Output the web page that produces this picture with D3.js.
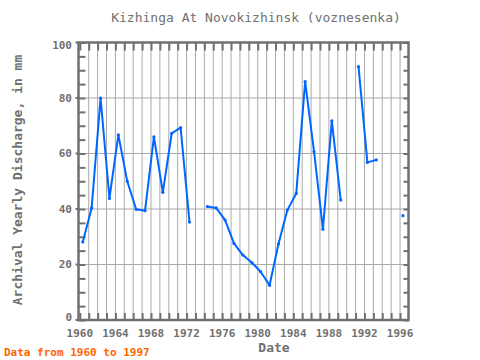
<!DOCTYPE html>
<html><head><meta charset="utf-8">
<script src="https://cdn.jsdelivr.net/npm/d3@7"></script>
<style>body{margin:0;background:#fff}</style>
</head><body>
<svg id="c" width="480" height="360"></svg>
<script>
const years = [1960,1961,1962,1963,1964,1965,1966,1967,1968,1969,1970,1971,1972,1973,1974,1975,1976,1977,1978,1979,1980,1981,1982,1983,1984,1985,1986,1987,1988,1989,1990,1991,1992,1993,1994,1995,1996];
const discharge = [28.1,40.4,80.0,43.8,66.7,50.0,39.9,39.4,66.0,46.0,67.3,69.3,35.3,null,40.9,40.4,36.0,27.6,23.4,20.7,17.4,12.5,27.4,39.6,45.6,85.9,60.7,32.7,71.8,43.2,null,91.3,56.8,57.7,null,null,37.6];
const xTickLabels = [1960,1964,1968,1972,1976,1980,1984,1988,1992,1996];
const yTickLabels = [0,20,40,60,80,100];
const title = "Kizhinga At Novokizhinsk (voznesenka)";
const yLabel = "Archival Yearly Discharge, in mm";
const xLabel = "Date";
const note = "Data from 1960 to 1997";

const data = years.map((y,i)=>({year:y, value:discharge[i]}));
const svg = d3.select("#c");
const L=78.5, R=408.5, T=42.5, B=320;
const x = d3.scaleLinear().domain([1959.85,1996.95]).range([L,R]);
const y = d3.scaleLinear().domain([0,100]).range([B,T]);
const off = 0.33; // observation date within the year
const font = "DejaVu Sans Mono, monospace";
const axisCol = "#707070", gridCol = "#aaaaaa", textCol = "#707070";

// grid
const gridYears = d3.range(1961,1997);
svg.append("g").selectAll("line").data(gridYears).join("line")
  .attr("x1",d=>x(d)).attr("x2",d=>x(d)).attr("y1",T).attr("y2",B)
  .attr("stroke",gridCol).attr("stroke-width",1);
svg.append("g").selectAll("line").data([20,40,60,80]).join("line")
  .attr("x1",L).attr("x2",R).attr("y1",d=>y(d)).attr("y2",d=>y(d))
  .attr("stroke",gridCol).attr("stroke-width",1);

// axes with D3 axis generators
const xb = d3.axisBottom(x).tickValues(d3.range(1960,1997)).tickSize(-7).tickFormat("");
const xt = d3.axisTop(x).tickValues(d3.range(1960,1997)).tickSize(-8).tickFormat("");
const yl = d3.axisLeft(y).tickValues(d3.range(0,101,5)).tickSize(-7).tickFormat("");
const yr = d3.axisRight(y).tickValues(d3.range(0,101,5)).tickSize(-5).tickFormat("");
function style(g){ g.select(".domain").remove(); g.selectAll("line").attr("stroke",axisCol).attr("stroke-width",2); }
svg.append("g").attr("transform",`translate(0,${B})`).call(xb).call(style);
svg.append("g").attr("transform",`translate(0,${T})`).call(xt).call(style);
svg.append("g").attr("transform",`translate(${L},0)`).call(yl).call(style);
svg.append("g").attr("transform",`translate(${R},0)`).call(yr).call(style);
// outward major ticks on left
svg.append("g").selectAll("line").data(yTickLabels).join("line")
  .attr("x1",L-3).attr("x2",L).attr("y1",d=>y(d)).attr("y2",d=>y(d))
  .attr("stroke",axisCol).attr("stroke-width",2);
// frame
svg.append("rect").attr("x",L).attr("y",T).attr("width",R-L).attr("height",B-T)
  .attr("fill","none").attr("stroke",axisCol).attr("stroke-width",2.5);

// tick labels
svg.append("g").selectAll("text").data(xTickLabels).join("text")
  .attr("x",d=>x(d)).attr("y",337).attr("text-anchor","middle")
  .attr("font-family",font).attr("font-size",11).attr("font-weight","bold").attr("fill",textCol).text(d=>d);
svg.append("g").selectAll("text").data(yTickLabels).join("text")
  .attr("x",72).attr("y",d=>y(d) + (d===100?3:d===0?-3:0)).attr("dy","0.35em").attr("text-anchor","end")
  .attr("font-family",font).attr("font-size",11).attr("font-weight","bold").attr("fill",textCol).text(d=>d);

// line
const line = d3.line().defined(d=>d.value!==null).x(d=>x(d.year+off)).y(d=>y(d.value));
svg.append("path").datum(data).attr("d",line).attr("fill","none")
  .attr("stroke","#0066ff").attr("stroke-width",2).attr("stroke-linejoin","round");
svg.append("g").selectAll("circle").data(data.filter(d=>d.value!==null)).join("circle")
  .attr("cx",d=>x(d.year+off)).attr("cy",d=>y(d.value)).attr("r",1.6).attr("fill","#0066ff");

// titles
svg.append("text").attr("x",256).attr("y",22).attr("text-anchor","middle")
  .attr("font-family",font).attr("font-size",13).attr("fill",textCol).text(title);
svg.append("text").attr("transform","translate(22,180) rotate(-90)").attr("text-anchor","middle")
  .attr("font-family",font).attr("font-size",13).attr("font-weight","bold").attr("fill",textCol).text(yLabel);
svg.append("text").attr("x",274).attr("y",352).attr("text-anchor","middle")
  .attr("font-family",font).attr("font-size",13).attr("font-weight","bold").attr("fill",textCol).text(xLabel);
svg.append("text").attr("x",4).attr("y",356)
  .attr("font-family",font).attr("font-size",11).attr("font-weight","bold").attr("fill","#ff6600").text(note);
</script>
</body></html>
